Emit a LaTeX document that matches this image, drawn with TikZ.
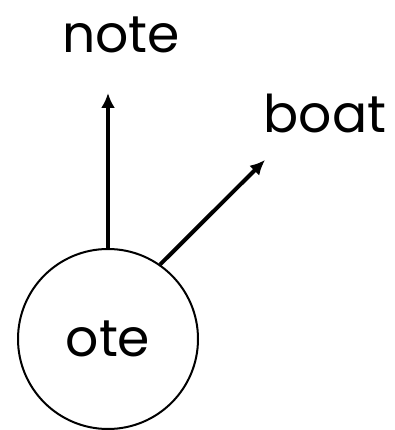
\documentclass[tikz,border=0pt]{standalone}
\usepackage{fontspec}
\setmainfont{Poppins}
\usetikzlibrary{arrows.meta}
\begin{document}
\begin{tikzpicture}[x=1pt,y=1pt,
  word/.style={font=\fontsize{52}{62}\selectfont,inner sep=0pt},
  arr/.style={line width=4pt,-{Latex[length=15pt,width=14pt]}}]
  \useasboundingbox (0,0) rectangle (394,430);
  \node[draw,circle,line width=2pt,minimum size=180pt,inner sep=0pt,
    font=\fontsize{52}{62}\selectfont] (ote) at (108,91) {ote};
  \node[word,anchor=base] (note) at (121,377) {note};
  \node[word,anchor=base] (boat) at (325,297) {boat};
  \coordinate (noteend) at (108,337);
  \coordinate (boatend) at (265,270);
  \draw[arr] (ote.north) -- (noteend);
  \draw[arr] (ote.55) -- (boatend);
\end{tikzpicture}
\end{document}
